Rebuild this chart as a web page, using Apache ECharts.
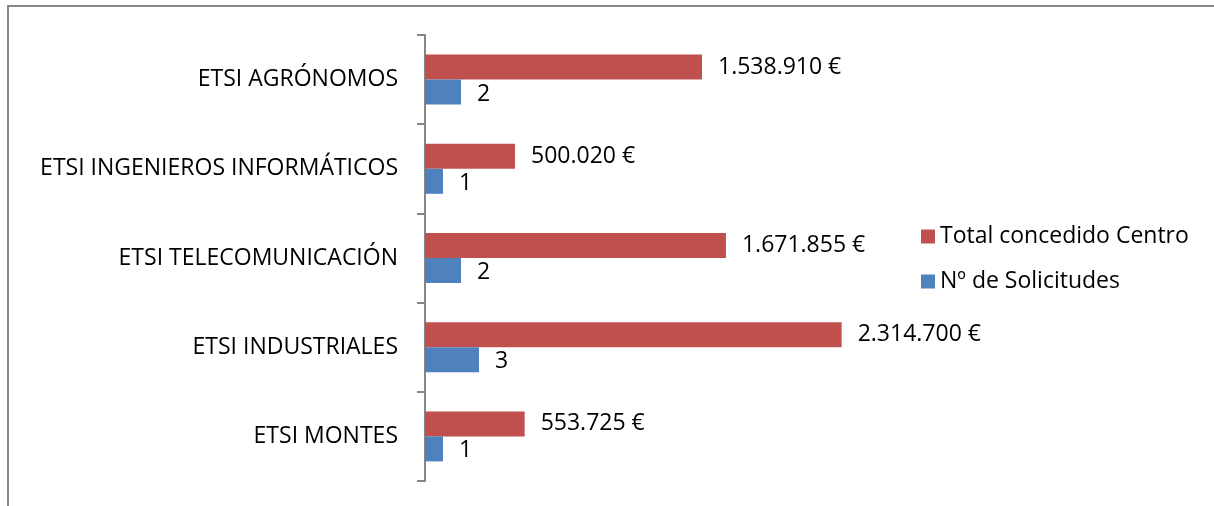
<!DOCTYPE html>
<html>
<head>
<meta charset="utf-8">
<script src="https://cdn.jsdelivr.net/npm/echarts@6/dist/echarts.min.js"></script>
<style>
  html, body { margin: 0; padding: 0; background: #fff; }
  #chart { width: 1214px; height: 506px; }
</style>
</head>
<body>
<div id="chart"></div>
<script>
  var centros = ['ETSI AGRÓNOMOS', 'ETSI INGENIEROS INFORMÁTICOS', 'ETSI TELECOMUNICACIÓN', 'ETSI INDUSTRIALES', 'ETSI MONTES'];
  var totalConcedido = [1538910, 500020, 1671855, 2314700, 553725];
  var solicitudes = [2, 1, 2, 3, 1];

  var font = '"Open Sans", sans-serif';
  var fs = 23;
  var euro = function (v) {
    return String(v).replace(/\B(?=(\d{3})+(?!\d))/g, '.') + ' €';
  };

  var chart = echarts.init(document.getElementById('chart'));
  chart.setOption({
    animation: false,
    textStyle: { fontFamily: font },
    graphic: [{
      type: 'rect',
      shape: { x: 8, y: 6, width: 1400, height: 700 },
      style: { fill: 'none', stroke: '#868686', lineWidth: 2 },
      silent: true
    }],
    legend: {
      orient: 'vertical',
      left: 916,
      top: 220,
      itemWidth: 14,
      itemHeight: 14,
      itemGap: 22,
      icon: 'rect',
      textStyle: { fontFamily: font, fontSize: fs, color: '#000' },
      data: ['Total concedido Centro', 'Nº de Solicitudes']
    },
    grid: { left: 425, top: 35, width: 450, height: 446, containLabel: false },
    yAxis: {
      type: 'category',
      inverse: true,
      data: centros,
      axisLine: { lineStyle: { color: '#868686', width: 2 } },
      axisTick: { show: true, length: 8, lineStyle: { color: '#868686', width: 2 } },
      axisLabel: { margin: 27, fontFamily: font, fontSize: fs, color: '#000' }
    },
    xAxis: [
      { type: 'value', min: 0, max: 2500000, show: false },
      { type: 'value', min: 0, max: 25, show: false }
    ],
    series: [{
      name: 'Total concedido Centro',
      type: 'bar',
      xAxisIndex: 0,
      barWidth: 25,
      barGap: '0%',
      data: totalConcedido,
      itemStyle: { color: '#C0504D' },
      label: {
        show: true, position: 'right', distance: 16,
        fontFamily: font, fontSize: fs, color: '#000',
        formatter: function (p) { return euro(p.value); }
      }
    }, {
      name: 'Nº de Solicitudes',
      type: 'bar',
      xAxisIndex: 1,
      barWidth: 25,
      barGap: '0%',
      data: solicitudes,
      itemStyle: { color: '#4F81BD' },
      label: {
        show: true, position: 'right', distance: 16, offset: [0, 2],
        fontFamily: font, fontSize: fs, color: '#000'
      }
    }]
  });
</script>
</body>
</html>
